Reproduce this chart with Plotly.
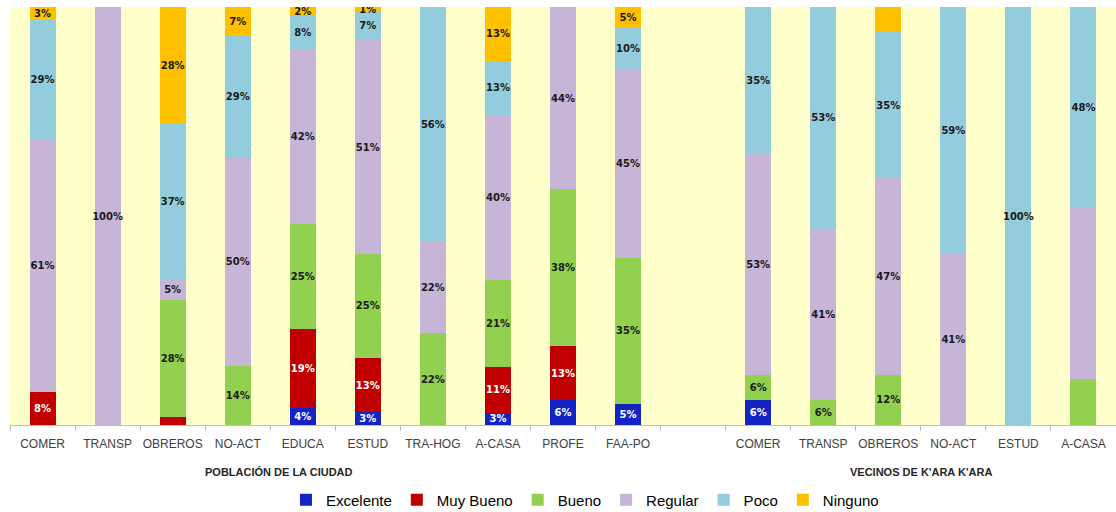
import plotly.graph_objects as go

categories = ["COMER", "TRANSP", "OBREROS", "NO-ACT", "EDUCA", "ESTUD", "TRA-HOG", "A-CASA", "PROFE", "FAA-PO",
              " ",
              "COMER\u200b", "TRANSP\u200b", "OBREROS\u200b", "NO-ACT\u200b", "ESTUD\u200b", "A-CASA\u200b"]

excelente = [0, 0, 0, 0, 4, 3, 0, 3, 6, 5, None, 6, 0, 0, 0, 0, 0]
muy_bueno = [8, 0, 2, 0, 19, 13, 0, 11, 13, 0, None, 0, 0, 0, 0, 0, 0]
bueno     = [0, 0, 28, 14, 25, 25, 22, 21, 38, 35, None, 6, 6, 12, 0, 0, 11]
regular   = [61, 100, 5, 50, 42, 51, 22, 40, 44, 45, None, 53, 41, 47, 41, 0, 41]
poco      = [29, 0, 37, 29, 8, 7, 56, 13, 0, 10, None, 35, 53, 35, 59, 100, 48]
ninguno   = [3, 0, 28, 7, 2, 1, 0, 13, 0, 5, None, 0, 0, 6, 0, 0, 0]

# labels not shown in the original (series name, category index)
hidden = {("Muy Bueno", 2), ("Ninguno", 13), ("Bueno", 16), ("Regular", 16)}

series = [
    ("Excelente", excelente, "#1424C4", "white"),
    ("Muy Bueno", muy_bueno, "#C00000", "white"),
    ("Bueno", bueno, "#92D050", "#1a1a1a"),
    ("Regular", regular, "#C6B5D7", "#1a1a1a"),
    ("Poco", poco, "#93CDDD", "#1a1a1a"),
    ("Ninguno", ninguno, "#FFC000", "#1a1a1a"),
]

fig = go.Figure()
for name, vals, color, tcol in series:
    texts = []
    for i, v in enumerate(vals):
        if v is None or v == 0 or (name, i) in hidden:
            texts.append("")
        else:
            texts.append(f"<b>{v}%</b>")
    fig.add_trace(go.Bar(
        name=name, x=categories, y=[None if (v is None or v == 0) else v for v in vals],
        marker=dict(color=color, line=dict(width=0)),
        text=texts, textposition="inside", insidetextanchor="middle", textangle=0,
        insidetextfont=dict(family="DejaVu Sans", size=10, color=tcol),
        hoverinfo="skip", width=0.4,
    ))

fig.update_layout(
    barmode="stack", barnorm="percent",
    width=1116, height=512,
    margin=dict(l=10, r=0, t=7, b=87, autoexpand=False),
    plot_bgcolor="#FFFFCC", paper_bgcolor="white",
    uniformtext=dict(mode="show", minsize=10),
    showlegend=True,
    legend=dict(orientation="h", x=0.2495, xref="paper", y=-0.14, yanchor="top",
                font=dict(family="Liberation Sans", size=15, color="#000"),
                itemwidth=30, traceorder="normal"),
    xaxis=dict(type="category", categoryorder="array", categoryarray=categories,
               tickson="boundaries", ticks="outside", ticklen=5, tickcolor="#bfbfbf",
               showline=True, linecolor="#bfbfbf", linewidth=1, tickangle=0, automargin=False,
               ticklabelstandoff=8,
               tickfont=dict(family="Liberation Sans", size=12, color="#404040"),
               showgrid=False, range=[-0.5, 16.5]),
    yaxis=dict(range=[0, 100], visible=False, showgrid=False),
    annotations=[
        dict(text="<b>POBLACIÓN DE LA CIUDAD</b>", x=3.64, xref="x", y=-0.093, yref="paper",
             yanchor="top", showarrow=False, font=dict(family="Liberation Sans", size=11, color="#262626")),
        dict(text="<b>VECINOS DE K'ARA K'ARA</b>", x=13.5, xref="x", y=-0.093, yref="paper",
             yanchor="top", showarrow=False, font=dict(family="Liberation Sans", size=11, color="#262626")),
    ],
)

fig.write_html("out.html", config={"displayModeBar": False},
               post_script="document.body.style.margin='0';")
